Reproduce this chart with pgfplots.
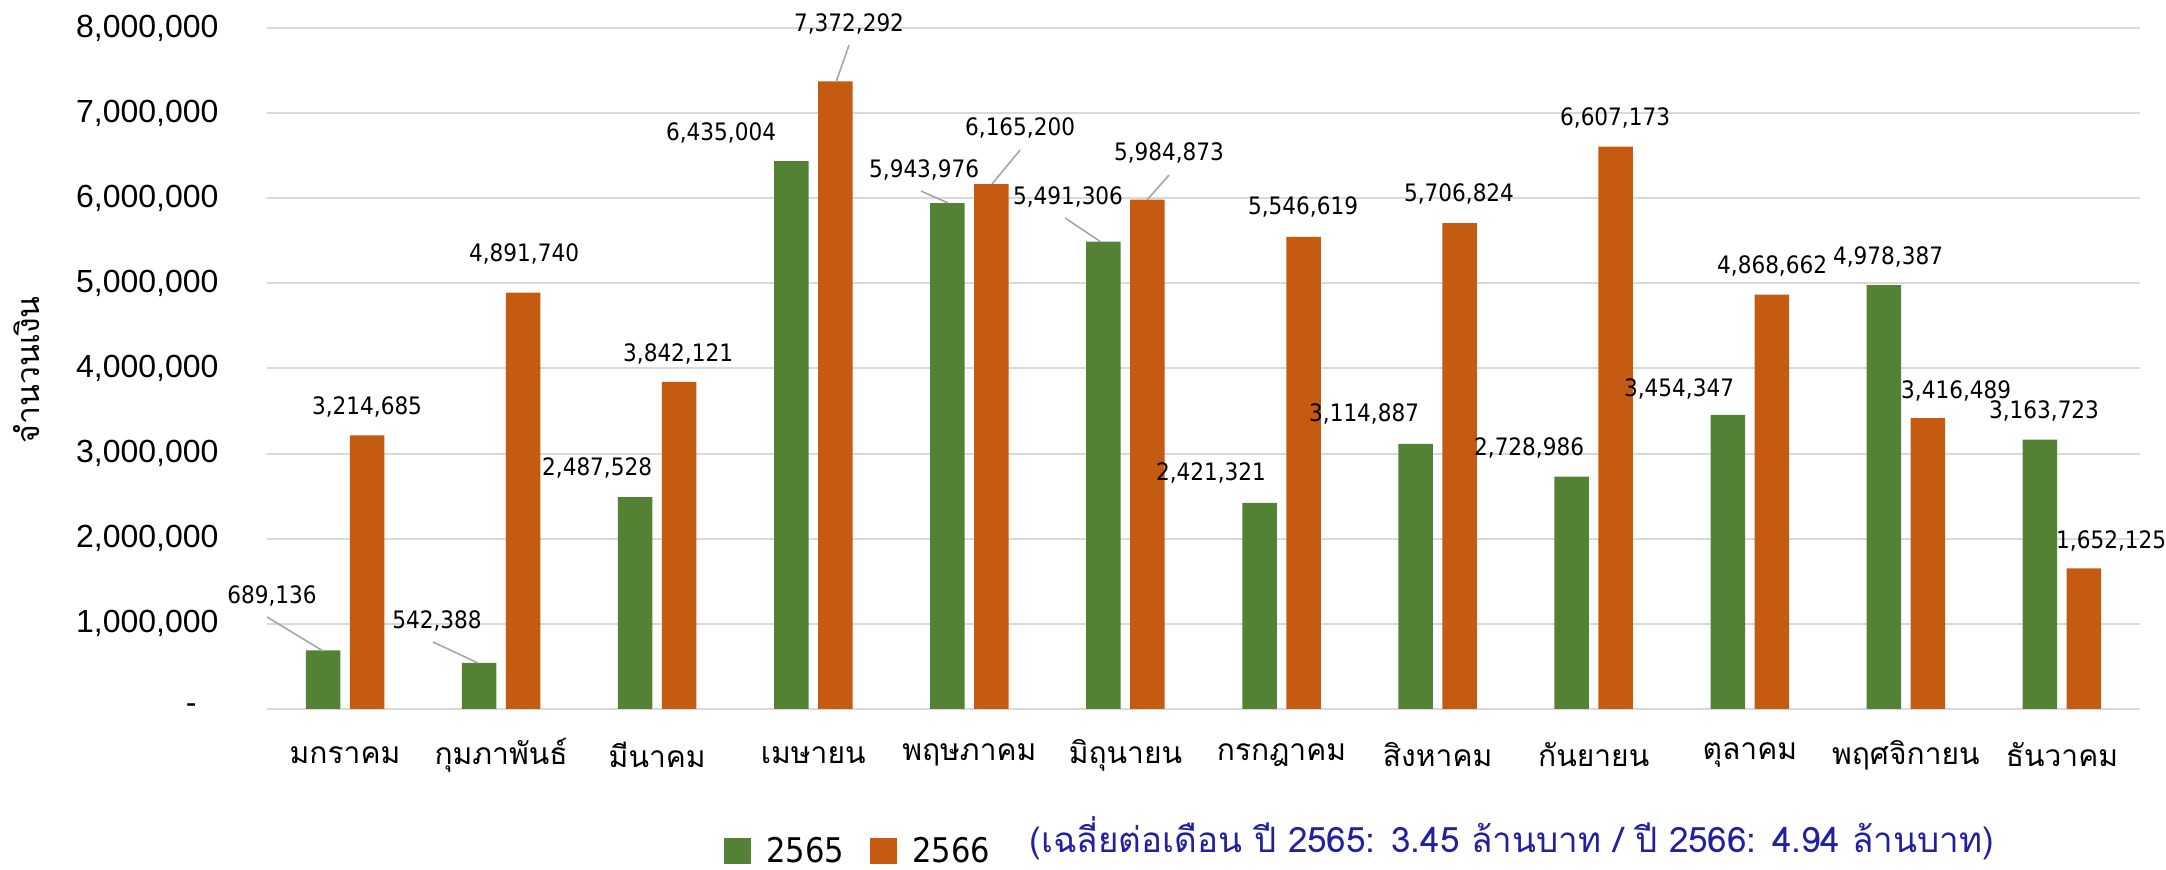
\documentclass[border=0pt]{standalone}
\usepackage{fontspec}
\usepackage{pgfplots}
\pgfplotsset{compat=1.18}
\setmainfont{Liberation Sans}
\newfontfamily\thaifont[Script=Thai]{Loma}
\newfontfamily\lblfont[FakeStretch=0.9]{DejaVu Sans}

\definecolor{g65}{RGB}{84,130,53}
\definecolor{o66}{RGB}{197,90,17}
\definecolor{gridc}{RGB}{217,217,217}
\definecolor{leadc}{RGB}{166,166,166}
\definecolor{avgblue}{RGB}{32,32,160}

% data label at axis position
\newcommand{\lbl}[3]{\node[font=\lblfont\fontsize{12}{14}\selectfont, inner sep=0pt] at (axis cs:#1,#2) {#3};}
\newcommand{\lead}[4]{\draw[leadc, line width=0.8pt] (axis cs:#1,#2) -- (axis cs:#3,#4);}

\begin{document}
\begin{tikzpicture}
\useasboundingbox (0,0) rectangle (1083pt,435pt);
\begin{axis}[
    at={(133.5pt,80.5pt)}, anchor=south west,
    scale only axis, width=936.5pt, height=340.5pt,
    ybar, bar width=17.25pt,
    xmin=-0.5, xmax=11.5, ymin=0, ymax=8000000,
    scaled y ticks=false,
    xtick={0,...,11},
    xticklabels={มกราคม,กุมภาพันธ์,มีนาคม,เมษายน,พฤษภาคม,มิถุนายน,กรกฎาคม,สิงหาคม,กันยายน,ตุลาคม,พฤศจิกายน,ธันวาคม},
    xticklabel style={font=\thaifont\fontsize{15}{18}\selectfont, anchor=center, yshift=-23pt},
    ytick={0,1000000,2000000,3000000,4000000,5000000,6000000,7000000,8000000},
    yticklabels={{-\hspace*{11pt}},{1,000,000},{2,000,000},{3,000,000},{4,000,000},{5,000,000},{6,000,000},{7,000,000},{8,000,000}},
    yticklabel style={font=\fontsize{16}{19}\selectfont, xshift=-20.7pt},
    major tick length=0pt,
    axis line style={draw=none},
    ymajorgrids, grid style={gridc, line width=1pt},
    clip=false,
    legend style={at={(0.244,-0.2085)}, anchor=west, draw=none, fill=none, inner sep=0pt,
        font=\lblfont\fontsize{17}{20}\selectfont,
        /tikz/every odd column/.append style={column sep=5.5pt},
        /tikz/every even column/.append style={column sep=11pt}},
    legend columns=2,
    legend image code/.code={\fill[#1] (0pt,-6.5pt) rectangle (13.5pt,6.5pt);},
]
\addplot[fill=g65, draw=none, bar shift=-11pt] coordinates {
    (0,689136) (1,542388) (2,2487528) (3,6435004) (4,5943976) (5,5491306)
    (6,2421321) (7,3114887) (8,2728986) (9,3454347) (10,4978387) (11,3163723)};
\addplot[fill=o66, draw=none, bar shift=11pt] coordinates {
    (0,3214685) (1,4891740) (2,3842121) (3,7372292) (4,6165200) (5,5984873)
    (6,5546619) (7,5706824) (8,6607173) (9,4868662) (10,3416489) (11,1652125)};
\legend{2565,2566}

% leader lines
\lead{-0.50}{1081000}{-0.141}{681000}
\lead{0.564}{787000}{0.852}{540000}
\lead{3.229}{7800000}{3.146}{7366000}
\lead{3.690}{6085000}{3.863}{5944000}
\lead{4.325}{6567000}{4.145}{6167000}
\lead{4.613}{5768000}{4.840}{5490000}
\lead{5.279}{6273000}{5.138}{5979000}

% data labels
\lbl{-0.468}{1327000}{689,136}
\lbl{0.141}{3548000}{3,214,685}
\lbl{0.589}{1034000}{542,388}
\lbl{1.147}{5345000}{4,891,740}
\lbl{1.615}{2831000}{2,487,528}
\lbl{2.134}{4170000}{3,842,121}
\lbl{2.409}{6767000}{6,435,004}
\lbl{3.229}{8047000}{7,372,292}
\lbl{3.710}{6332000}{5,943,976}
\lbl{4.325}{6825000}{6,165,200}
\lbl{4.632}{6015000}{5,491,306}
\lbl{5.279}{6532000}{5,984,873}
\lbl{5.548}{2772000}{2,421,321}
\lbl{6.138}{5897000}{5,546,619}
\lbl{6.529}{3466000}{3,114,887}
\lbl{7.137}{6050000}{5,706,824}
\lbl{7.586}{3066000}{2,728,986}
\lbl{8.137}{6943000}{6,607,173}
\lbl{8.547}{3759000}{3,454,347}
\lbl{9.143}{5204000}{4,868,662}
\lbl{9.886}{5310000}{4,978,387}
\lbl{10.322}{3736000}{3,416,489}
\lbl{10.885}{3501000}{3,163,723}
\lbl{11.315}{1974000}{1,652,125}
\end{axis}
\node[rotate=90, font=\thaifont\fontsize{16}{19}\selectfont] at (13.5pt,250pt) {จำนวนเงิน};
\node[anchor=west, inner sep=0pt, text=avgblue, font=\thaifont\fontsize{17.5}{20}\selectfont] at (514.5pt,16pt)
    {(เฉลี่ยต่อเดือน ปี 2565: 3.45 ล้านบาท / ปี 2566: 4.94 ล้านบาท)};
\end{tikzpicture}
\end{document}
